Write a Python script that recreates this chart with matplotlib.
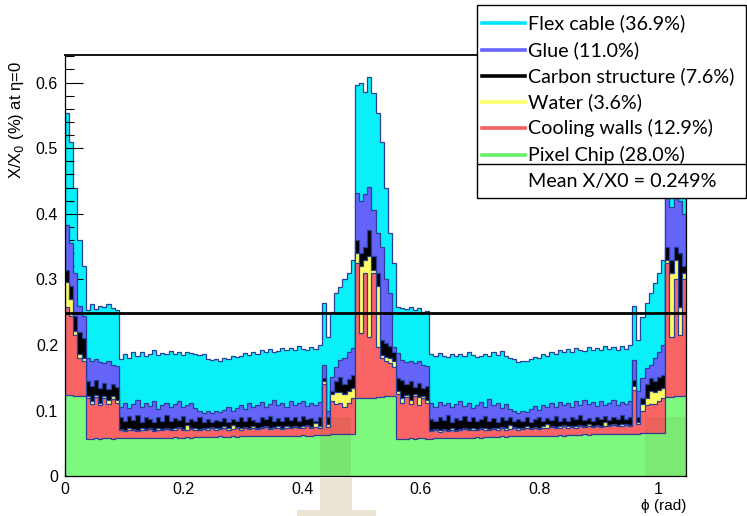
import numpy as np
import matplotlib
matplotlib.use('Agg')
import matplotlib.pyplot as plt
from matplotlib.patches import Rectangle
from matplotlib.lines import Line2D
from matplotlib.ticker import MultipleLocator, FormatStrFormatter

plt.rcParams['font.family'] = ['Liberation Sans', 'DejaVu Sans']

# histogram binning: 150 bins over 0..pi/3
n_bins = 150
phi_max = np.pi / 3

# cumulative top of each stacked layer (X/X0 in %)
pixel_chip = [0.124, 0.124, 0.123, 0.123, 0.122,
              0.057, 0.057, 0.058, 0.057, 0.058, 0.058, 0.057, 0.058,
              0.058, 0.058, 0.058, 0.059, 0.058, 0.058, 0.059, 0.058, 0.059, 0.059,
              0.059, 0.059, 0.059, 0.060, 0.059, 0.059, 0.060, 0.059, 0.060, 0.060,
              0.060, 0.060, 0.060, 0.060, 0.061, 0.060, 0.060, 0.061, 0.060, 0.061,
              0.061, 0.061, 0.061, 0.061, 0.062, 0.061, 0.061, 0.062, 0.061, 0.062,
              0.062, 0.062, 0.062, 0.062, 0.063, 0.062, 0.062, 0.063, 0.063,
              0.063, 0.063, 0.064, 0.064, 0.064, 0.064, 0.064, 0.064,
              0.119, 0.119, 0.120, 0.120, 0.120, 0.121, 0.121, 0.122, 0.122, 0.122,
              0.057, 0.057, 0.057, 0.058, 0.057, 0.058, 0.058, 0.057,
              0.057, 0.058, 0.058, 0.058, 0.058, 0.059, 0.058, 0.059, 0.059, 0.059,
              0.059, 0.060, 0.059, 0.060, 0.060, 0.060, 0.060, 0.061, 0.060, 0.061,
              0.061, 0.061, 0.061, 0.061, 0.062, 0.061, 0.062, 0.062, 0.062, 0.062,
              0.062, 0.063, 0.062, 0.063, 0.063, 0.063, 0.063, 0.064, 0.063, 0.064,
              0.064, 0.064, 0.064, 0.065, 0.064, 0.065, 0.065, 0.065, 0.065,
              0.065, 0.065, 0.066, 0.066, 0.066, 0.066, 0.066, 0.066,
              0.121, 0.121, 0.122, 0.122, 0.123]

cooling_walls = [0.258, 0.245, 0.215, 0.180, 0.175,
                 0.120, 0.110, 0.121, 0.108, 0.120, 0.110, 0.118, 0.112,
                 0.070, 0.069, 0.071, 0.070, 0.069, 0.071, 0.070, 0.072, 0.069, 0.071,
                 0.070, 0.072, 0.070, 0.071, 0.073, 0.070, 0.071, 0.072, 0.071, 0.070,
                 0.072, 0.071, 0.073, 0.071, 0.072, 0.074, 0.071, 0.072, 0.073, 0.071,
                 0.073, 0.072, 0.074, 0.072, 0.073, 0.075, 0.072, 0.073, 0.074, 0.072,
                 0.074, 0.073, 0.075, 0.073, 0.074, 0.076, 0.073, 0.075, 0.074,
                 0.140, 0.075, 0.115, 0.110, 0.112, 0.105, 0.112, 0.120,
                 0.325, 0.218, 0.310, 0.213, 0.310, 0.197, 0.180, 0.176, 0.172, 0.167,
                 0.125, 0.112, 0.121, 0.110, 0.122, 0.108, 0.119, 0.112,
                 0.069, 0.070, 0.068, 0.070, 0.069, 0.071, 0.069, 0.070, 0.072, 0.070,
                 0.071, 0.070, 0.072, 0.071, 0.070, 0.072, 0.071, 0.073, 0.071, 0.072,
                 0.073, 0.071, 0.072, 0.074, 0.072, 0.073, 0.072, 0.074, 0.073, 0.075,
                 0.073, 0.074, 0.076, 0.074, 0.075, 0.074, 0.076, 0.075, 0.077, 0.075,
                 0.076, 0.075, 0.077, 0.076, 0.078, 0.076, 0.077, 0.078, 0.076,
                 0.132, 0.080, 0.100, 0.108, 0.110, 0.110, 0.115, 0.120,
                 0.325, 0.213, 0.300, 0.215, 0.300]

water = [0.296, 0.270, 0.222, 0.186, 0.181,
         0.123, 0.114, 0.124, 0.112, 0.123, 0.117, 0.122, 0.116,
         0.072, 0.071, 0.073, 0.072, 0.071, 0.073, 0.072, 0.074, 0.071, 0.073,
         0.072, 0.074, 0.072, 0.073, 0.075, 0.072, 0.078, 0.074, 0.073, 0.072,
         0.074, 0.073, 0.075, 0.073, 0.074, 0.076, 0.073, 0.078, 0.075, 0.073,
         0.075, 0.074, 0.076, 0.074, 0.075, 0.077, 0.074, 0.075, 0.076, 0.074,
         0.076, 0.075, 0.077, 0.075, 0.076, 0.078, 0.075, 0.081, 0.076,
         0.145, 0.080, 0.125, 0.128, 0.128, 0.125, 0.130, 0.135,
         0.340, 0.320, 0.330, 0.335, 0.315, 0.290, 0.185, 0.182, 0.180, 0.175,
         0.130, 0.120, 0.124, 0.116, 0.125, 0.121, 0.123, 0.117,
         0.071, 0.072, 0.070, 0.072, 0.071, 0.073, 0.071, 0.072, 0.074, 0.072,
         0.073, 0.072, 0.074, 0.073, 0.072, 0.074, 0.073, 0.075, 0.073, 0.078,
         0.075, 0.073, 0.074, 0.076, 0.074, 0.075, 0.074, 0.076, 0.079, 0.077,
         0.075, 0.076, 0.078, 0.076, 0.077, 0.076, 0.078, 0.077, 0.079, 0.077,
         0.078, 0.077, 0.083, 0.078, 0.080, 0.078, 0.079, 0.080, 0.078,
         0.138, 0.083, 0.110, 0.120, 0.130, 0.128, 0.132, 0.135,
         0.330, 0.310, 0.330, 0.258, 0.310]

carbon = [0.315, 0.290, 0.245, 0.220, 0.210,
          0.145, 0.138, 0.147, 0.135, 0.142, 0.133, 0.140, 0.136,
          0.090, 0.084, 0.092, 0.086, 0.094, 0.083, 0.090, 0.087, 0.082, 0.091,
          0.085, 0.093, 0.084, 0.089, 0.086, 0.092, 0.083, 0.088, 0.085, 0.090,
          0.083, 0.087, 0.082, 0.086, 0.084, 0.089, 0.083, 0.088, 0.085, 0.090,
          0.084, 0.091, 0.086, 0.083, 0.090, 0.087, 0.092, 0.085, 0.089, 0.084,
          0.091, 0.086, 0.090, 0.085, 0.092, 0.087, 0.089, 0.084, 0.090,
          0.150, 0.090, 0.130, 0.145, 0.152, 0.140, 0.148, 0.155,
          0.360, 0.340, 0.350, 0.375, 0.335, 0.310, 0.208, 0.203, 0.198, 0.190,
          0.150, 0.147, 0.140, 0.145, 0.136, 0.142, 0.134, 0.138,
          0.088, 0.084, 0.091, 0.086, 0.093, 0.083, 0.089, 0.086, 0.092, 0.085,
          0.090, 0.084, 0.088, 0.092, 0.085, 0.089, 0.083, 0.090, 0.086, 0.091,
          0.084, 0.088, 0.085, 0.090, 0.083, 0.087, 0.091, 0.085, 0.089, 0.086,
          0.092, 0.085, 0.089, 0.084, 0.090, 0.087, 0.093, 0.086, 0.089, 0.085,
          0.091, 0.087, 0.092, 0.086, 0.090, 0.088, 0.093, 0.087, 0.090,
          0.147, 0.090, 0.120, 0.140, 0.150, 0.145, 0.152, 0.155,
          0.350, 0.330, 0.350, 0.340, 0.320]

glue = [0.383, 0.355, 0.310, 0.260, 0.245,
        0.180, 0.176, 0.178, 0.174, 0.172, 0.176, 0.170, 0.168,
        0.106, 0.112, 0.104, 0.110, 0.116, 0.105, 0.111, 0.107, 0.114, 0.103,
        0.109, 0.112, 0.105, 0.110, 0.114, 0.106, 0.108, 0.112, 0.104, 0.100,
        0.097, 0.099, 0.096, 0.100, 0.098, 0.101, 0.105, 0.100, 0.104, 0.108,
        0.103, 0.112, 0.106, 0.109, 0.113, 0.105, 0.110, 0.117, 0.108, 0.112,
        0.106, 0.115, 0.109, 0.111, 0.114, 0.107, 0.112, 0.108, 0.113,
        0.170, 0.100, 0.152, 0.167, 0.177, 0.180, 0.190, 0.195,
        0.431, 0.420, 0.430, 0.441, 0.406, 0.371, 0.350, 0.300, 0.279, 0.197,
        0.188, 0.177, 0.174, 0.176, 0.172, 0.175, 0.170, 0.168,
        0.112, 0.106, 0.113, 0.108, 0.111, 0.105, 0.110, 0.114, 0.107, 0.111,
        0.104, 0.109, 0.113, 0.106, 0.118, 0.108, 0.112, 0.104, 0.110, 0.102,
        0.099, 0.097, 0.100, 0.098, 0.103, 0.107, 0.101, 0.109, 0.105, 0.111,
        0.106, 0.113, 0.108, 0.112, 0.106, 0.114, 0.109, 0.116, 0.110, 0.113,
        0.107, 0.115, 0.109, 0.112, 0.117, 0.108, 0.113, 0.110, 0.115,
        0.177, 0.130, 0.150, 0.165, 0.170, 0.180, 0.190, 0.200,
        0.430, 0.410, 0.430, 0.420, 0.400]

flex_cable = [0.553, 0.510, 0.440, 0.360, 0.320,
              0.253, 0.262, 0.255, 0.260, 0.258, 0.262, 0.256, 0.254,
              0.178, 0.186, 0.180, 0.189, 0.183, 0.190, 0.184, 0.186, 0.192, 0.185,
              0.188, 0.186, 0.191, 0.186, 0.189, 0.185, 0.190, 0.188, 0.187, 0.185,
              0.186, 0.178, 0.177, 0.178, 0.175, 0.180, 0.179, 0.183, 0.182, 0.184,
              0.188, 0.185, 0.190, 0.187, 0.192, 0.189, 0.194, 0.190, 0.191, 0.196,
              0.192, 0.195, 0.193, 0.198, 0.194, 0.192, 0.197, 0.194, 0.200,
              0.264, 0.213, 0.250, 0.279, 0.289, 0.300, 0.310, 0.330,
              0.597, 0.600, 0.585, 0.609, 0.584, 0.554, 0.510, 0.440, 0.370, 0.325,
              0.258, 0.257, 0.255, 0.258, 0.253, 0.256, 0.250, 0.252,
              0.186, 0.183, 0.188, 0.184, 0.182, 0.186, 0.183, 0.187, 0.184, 0.189,
              0.185, 0.182, 0.184, 0.187, 0.183, 0.190, 0.185, 0.191, 0.184, 0.180,
              0.178, 0.174, 0.176, 0.175, 0.179, 0.182, 0.180, 0.186, 0.184, 0.190,
              0.187, 0.192, 0.189, 0.194, 0.190, 0.196, 0.193, 0.191, 0.197, 0.193,
              0.196, 0.192, 0.198, 0.194, 0.197, 0.193, 0.199, 0.194, 0.200,
              0.259, 0.208, 0.243, 0.264, 0.279, 0.295, 0.310, 0.330,
              0.590, 0.600, 0.580, 0.600, 0.570]

legend_labels = ['Flex cable (36.9%)', 'Glue (11.0%)', 'Carbon structure (7.6%)',
                 'Water (3.6%)', 'Cooling walls (12.9%)', 'Pixel Chip (28.0%)']
mean_x0 = 0.249

#色
fill_colors = ['#0af0f8', '#6464fa', '#000000', '#ffff64', '#fa6464', '#7dfa7d']
line_colors = ['#00e5ff', '#6464ff', '#000000', '#ffff66', '#f06060', '#66f066']
outline = '#28409a'

W, H = 747, 516
fig = plt.figure(figsize=(W / 100, H / 100), dpi=100)
ax = fig.add_axes([65 / W, 1 - 476.3 / H, 621 / W, (476.3 - 55) / H])

edges = np.linspace(0, phi_max, n_bins + 1)
layers = [flex_cable, glue, carbon, water, cooling_walls, pixel_chip]
for z, (vals, col) in enumerate(zip(layers, fill_colors)):
    ax.stairs(vals, edges, baseline=0, fill=True, facecolor=col,
              edgecolor=outline, linewidth=0.9, zorder=1 + z)

# watermark shadow inside the frame
ax.add_patch(Rectangle((0.43, 0), 0.053, 0.09, facecolor='#6a5a20', alpha=0.13,
                       edgecolor='none', zorder=8))
ax.add_patch(Rectangle((0.978, 0), phi_max - 0.978, 0.09, facecolor='#6a5a20',
                       alpha=0.10, edgecolor='none', zorder=8))

ax.axhline(mean_x0, color='black', lw=2, zorder=15)

ax.set_xlim(0, phi_max)
ax.set_ylim(0, 0.642)
ax.xaxis.set_major_locator(MultipleLocator(0.2))
ax.xaxis.set_minor_locator(MultipleLocator(0.04))
ax.yaxis.set_major_locator(MultipleLocator(0.1))
ax.yaxis.set_minor_locator(MultipleLocator(0.02))
ax.xaxis.set_major_formatter(FormatStrFormatter('%g'))
ax.yaxis.set_major_formatter(FormatStrFormatter('%g'))
ax.tick_params(which='both', direction='in', width=0.8, labelsize=11.5)
ax.tick_params(axis='y', which='major', length=13, pad=5)
ax.tick_params(axis='y', which='minor', length=6.5)
ax.tick_params(axis='x', which='major', length=10, pad=4)
ax.tick_params(axis='x', which='minor', length=5)
# ticks sit between the flex cable fill and the other fills (ROOT stack drawing)
ax.xaxis.set_zorder(1.5)
ax.yaxis.set_zorder(1.5)
for s in ax.spines.values():
    s.set_zorder(20)
    s.set_linewidth(0.9)
ax.spines['top'].set_linewidth(1.3)

ax.set_ylabel('X/X$_0$ (%) at η=0', fontsize=12, loc='top')
ax.yaxis.set_label_coords(-0.062, 0.985)
ax.set_xlabel('ϕ (rad)', fontsize=11, loc='right')
ax.xaxis.set_label_coords(1.0, -0.054)

# watermark below the axis
for (x0, y0, x1, y1) in [(320, 478, 352, 516), (297, 510, 376, 516)]:
    fig.add_artist(Rectangle((x0 / W, 1 - y1 / H), (x1 - x0) / W, (y1 - y0) / H,
                             transform=fig.transFigure, facecolor='#ece4d2',
                             edgecolor='none', zorder=0))

# legend box
def fx(px):
    return px / W

def fy(py):
    return 1 - py / H

fig.add_artist(Rectangle((fx(477), fy(198)), fx(746) - fx(477), fy(5) - fy(198),
                         transform=fig.transFigure, facecolor='white',
                         edgecolor='black', lw=1, zorder=30))
rows = [23, 50, 76, 102, 128, 155]
for py, lab, col in zip(rows, legend_labels, line_colors):
    fig.add_artist(Line2D([fx(482), fx(525)], [fy(py), fy(py)], color=col, lw=2.6,
                          transform=fig.transFigure, zorder=31))
    fig.text(fx(528), fy(py), lab, fontsize=14.2, family='Lato', va='center',
             ha='left', zorder=32)
fig.add_artist(Line2D([fx(477), fx(746)], [fy(164), fy(164)], color='black', lw=1,
                      transform=fig.transFigure, zorder=31))
fig.text(fx(528), fy(181), 'Mean X/X0 = %.3f%%' % mean_x0, fontsize=14.2,
         family='Lato', va='center', ha='left', zorder=32)

fig.savefig('out.png', dpi=100)
